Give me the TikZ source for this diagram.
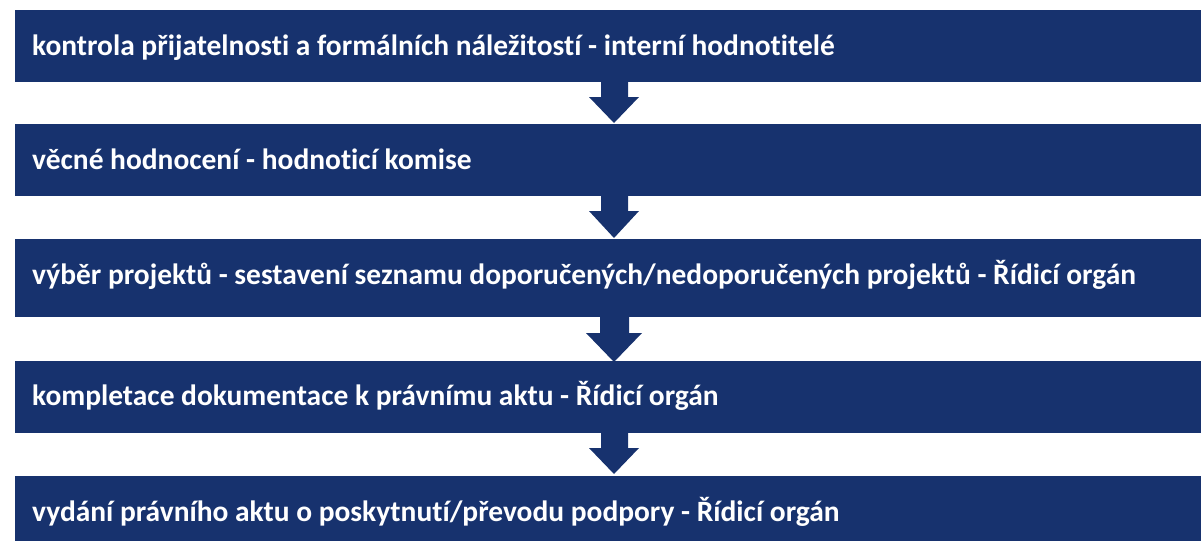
\documentclass[tikz,border=0pt]{standalone}
\usepackage{fontspec}
\setmainfont[Ligatures={NoCommon}]{Carlito}
\definecolor{navy}{RGB}{23,50,110}
\tikzset{
  px/.style={x=1pt,y=-1pt},
  stagebox/.style={fill=navy,draw=none},
  stagetext/.style={anchor=base west,inner sep=0pt,text=white,font=\fontsize{29.45}{34}\selectfont\bfseries},
  flowarrow/.style={fill=navy,draw=none}
}
\begin{document}
\begin{tikzpicture}[px]
\useasboundingbox (0,0) rectangle (1201,541);
% boxes
\fill[stagebox] (15,10) rectangle (1201,82);
\fill[stagebox] (15,124) rectangle (1201,196);
\fill[stagebox] (15,239) rectangle (1201,317);
\fill[stagebox] (15,361) rectangle (1201,433);
\fill[stagebox] (15,476) rectangle (1201,541);
\node[stagetext] (t1) at (32,55) {kontrola přijatelnosti a formálních náležitostí - interní hodnotitelé};
\node[stagetext] (t2) at (32,169) {věcné hodnocení - hodnoticí komise};
\node[stagetext] (t3) at (32,284) {výběr projektů - sestavení seznamu doporučených/nedoporučených projektů - Řídicí orgán};
\node[stagetext] (t4) at (32,405) {kompletace dokumentace k právnímu aktu - Řídicí orgán};
\node[stagetext] (t5) at (32,521) {vydání právního aktu o poskytnutí/převodu podpory - Řídicí orgán};
% arrows
\fill[flowarrow] (601,80) -- (628,80) -- (628,97) -- (639,97) -- (614,123) -- (589,97) -- (601,97) -- cycle;
\fill[flowarrow] (601,194) -- (628,194) -- (628,211) -- (639,211) -- (614,238) -- (589,211) -- (601,211) -- cycle;
\fill[flowarrow] (600,315) -- (629,315) -- (629,333) -- (642,333) -- (614,362) -- (586,333) -- (600,333) -- cycle;
\fill[flowarrow] (601,431) -- (628,431) -- (628,448) -- (639,448) -- (614,474) -- (589,448) -- (601,448) -- cycle;
\end{tikzpicture}
\end{document}
